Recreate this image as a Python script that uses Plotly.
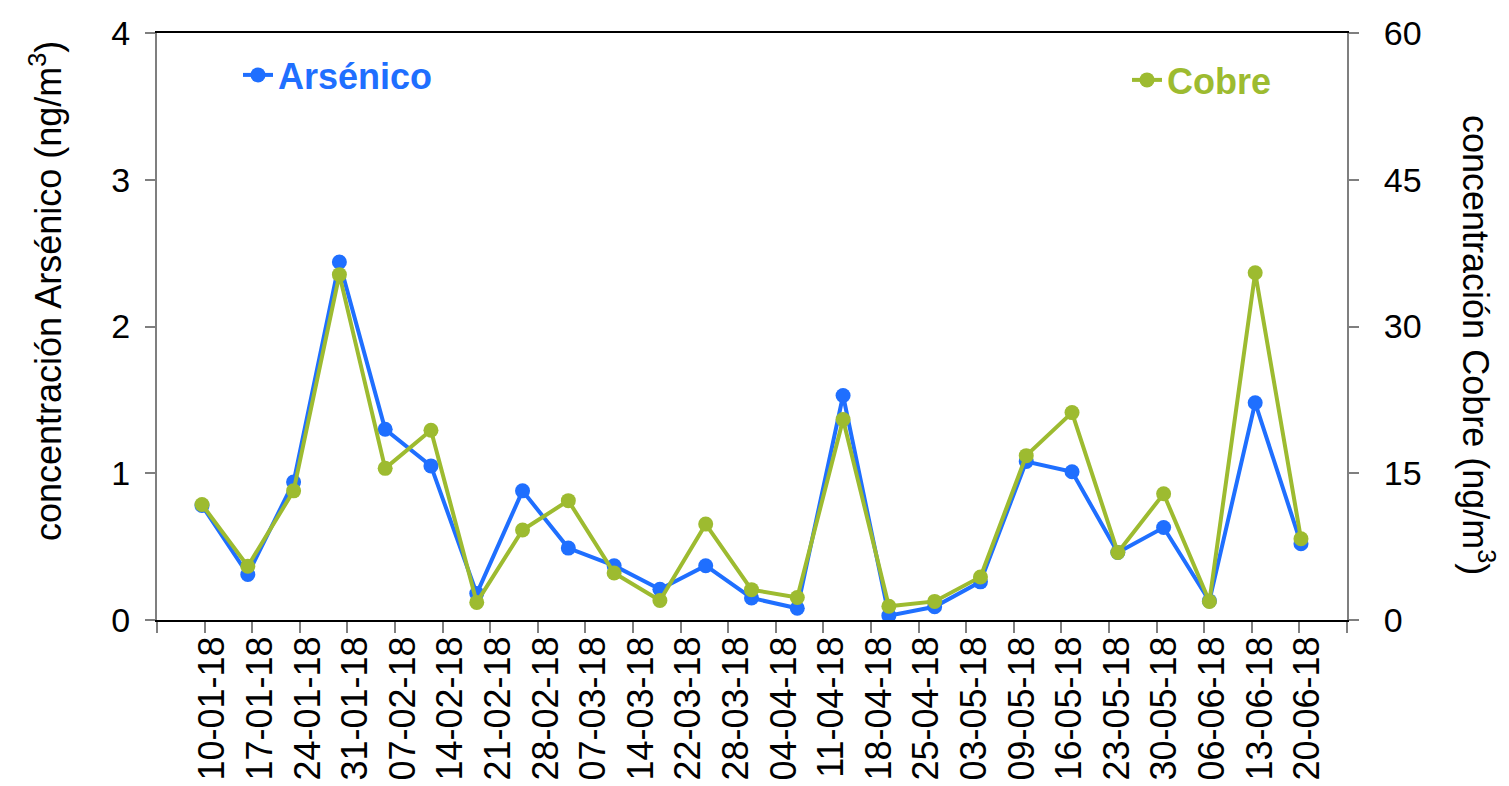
import plotly.graph_objects as go

fechas = ["10-01-18", "17-01-18", "24-01-18", "31-01-18", "07-02-18", "14-02-18",
          "21-02-18", "28-02-18", "07-03-18", "14-03-18", "22-03-18", "28-03-18",
          "04-04-18", "11-04-18", "18-04-18", "25-04-18", "03-05-18", "09-05-18",
          "16-05-18", "23-05-18", "30-05-18", "06-06-18", "13-06-18", "20-06-18"]

arsenico = [0.78, 0.31, 0.94, 2.44, 1.30, 1.05, 0.18, 0.88, 0.49, 0.37, 0.21, 0.37, 0.15,
            0.08, 1.53, 0.03, 0.09, 0.26, 1.08, 1.01, 0.46, 0.63, 0.13, 1.48, 0.52]
cobre = [11.8, 5.5, 13.2, 35.3, 15.5, 19.4, 1.8, 9.2, 12.2, 4.8, 2.0, 9.8, 3.1,
         2.3, 20.5, 1.4, 1.9, 4.4, 16.8, 21.2, 6.9, 12.9, 1.9, 35.5, 8.3]

y1_ticks = [0, 1, 2, 3, 4]
y2_ticks = [0, 15, 30, 45, 60]

BLUE = "#1F6FFF"
GREEN = "#9DBB30"
GRAY = "#7F7F7F"
FONT = "Arial, Liberation Sans, sans-serif"

idx = list(range(len(arsenico)))

# x axis extent and category slots for the date labels
X_LO, X_HI = -0.983, 25.005
n_slots = len(fechas) + 1
slot = (X_HI - X_LO) / n_slots
boundaries = [X_LO + j * slot for j in range(n_slots + 1)]
label_pos = [X_LO + (k + 1) * slot + 0.17 * slot for k in range(len(fechas))]

fig = go.Figure()
fig.add_trace(go.Scatter(
    x=idx, y=arsenico, name="Arsénico", mode="lines+markers",
    line=dict(color=BLUE, width=4), marker=dict(color=BLUE, size=15),
    yaxis="y", legend="legend"))
fig.add_trace(go.Scatter(
    x=idx, y=cobre, name="Cobre", mode="lines+markers",
    line=dict(color=GREEN, width=4), marker=dict(color=GREEN, size=15),
    yaxis="y2", legend="legend2"))

fig.update_layout(
    width=1509, height=786,
    margin=dict(l=157, r=162, t=33, b=166),
    paper_bgcolor="white", plot_bgcolor="white",
    font=dict(family=FONT, color="black"),
    xaxis=dict(
        range=[X_LO, X_HI], showgrid=False, zeroline=False, automargin=False,
        showline=True, linecolor="black", linewidth=2, mirror=True,
        tickmode="array", tickvals=label_pos, ticktext=fechas,
        ticks="", tickangle=-90, tickfont=dict(size=36, family=FONT),
        minor=dict(tickmode="array", tickvals=boundaries,
                   ticks="outside", ticklen=11, tickwidth=2, tickcolor=GRAY),
    ),
    yaxis=dict(
        range=[0, 4], tickvals=y1_ticks, showgrid=False, zeroline=False, automargin=False,
        showline=True, linecolor=GRAY, linewidth=2,
        ticks="outside", ticklen=10, tickwidth=1.5, tickcolor=GRAY,
        tickfont=dict(size=34, family=FONT), ticklabelstandoff=8,
    ),
    yaxis2=dict(
        range=[0, 60], tickvals=y2_ticks, overlaying="y", side="right",
        showgrid=False, zeroline=False, automargin=False,
        showline=True, linecolor=GRAY, linewidth=2,
        ticks="outside", ticklen=10, tickwidth=1.5, tickcolor=GRAY,
        tickfont=dict(size=34, family=FONT), ticklabelstandoff=18,
    ),
    legend=dict(
        x=(238 - 157) / 1190, y=(620 - 75) / 587, xanchor="left", yanchor="middle",
        font=dict(size=36, color=BLUE, family=FONT, weight="bold"),
        bgcolor="rgba(0,0,0,0)", borderwidth=0,
    ),
    legend2=dict(
        x=(1127 - 157) / 1190, y=(620 - 80) / 587, xanchor="left", yanchor="middle",
        font=dict(size=36, color=GREEN, family=FONT, weight="bold"),
        bgcolor="rgba(0,0,0,0)", borderwidth=0,
    ),
    showlegend=True,
    annotations=[
        dict(text="concentración Arsénico (ng/m<sup>3</sup>)", textangle=-90,
             xref="paper", yref="paper", x=(46 - 157) / 1190, y=(620 - 291) / 587,
             xanchor="center", yanchor="middle", showarrow=False,
             font=dict(size=36, family=FONT, color="black")),
        dict(text="concentración Cobre (ng/m<sup>3</sup>)", textangle=90,
             xref="paper", yref="paper", x=(1478 - 157) / 1190, y=(620 - 345) / 587,
             xanchor="center", yanchor="middle", showarrow=False,
             font=dict(size=36, family=FONT, color="black")),
    ],
)

fig.write_html("out.html")
